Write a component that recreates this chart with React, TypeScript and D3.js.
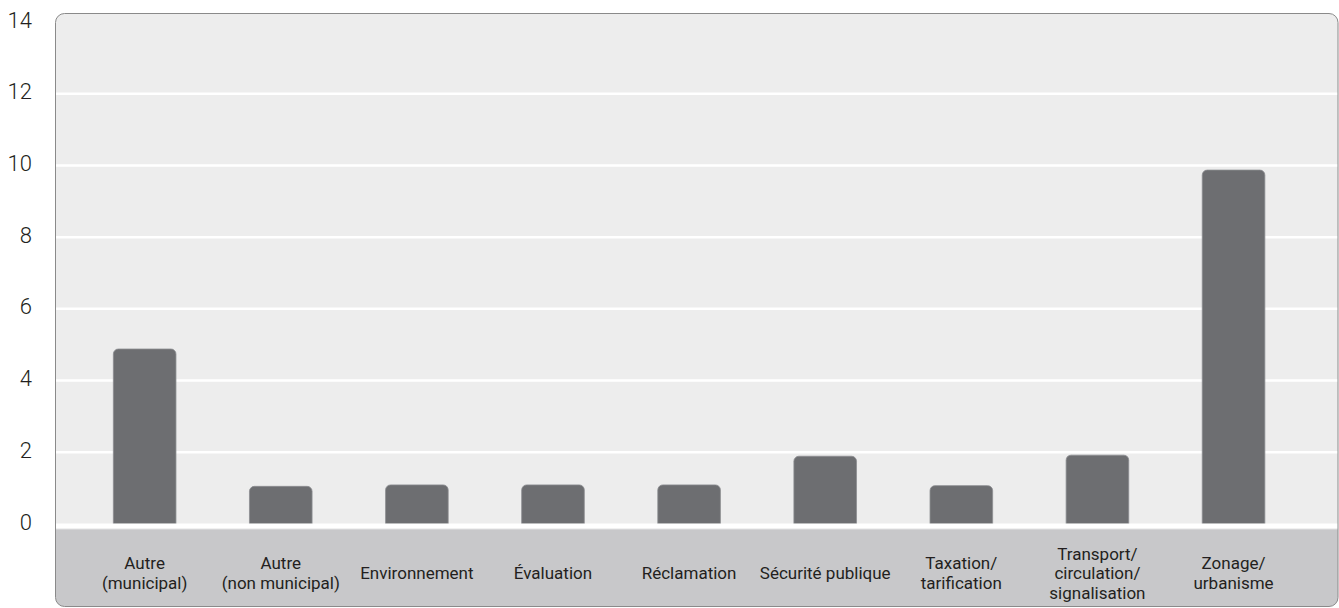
import React from "react";
import * as d3 from "d3";

// Number of requests per subject
const categories: string[][] = [
  ["Autre", "(municipal)"],
  ["Autre", "(non municipal)"],
  ["Environnement"],
  ["Évaluation"],
  ["Réclamation"],
  ["Sécurité publique"],
  ["Taxation/", "tarification"],
  ["Transport/", "circulation/", "signalisation"],
  ["Zonage/", "urbanisme"],
];
const values: number[] = [4.88, 1.05, 1.09, 1.09, 1.09, 1.89, 1.07, 1.92, 9.87];
const yTicks: number[] = [0, 2, 4, 6, 8, 10, 12, 14];

const W = 1339;
const H = 608;
const frame = { x: 55.5, y: 13.5, right: 1338, bottom: 606.5, r: 9 };
const bandTop = 529;

export default function App() {
  const keys = categories.map((c) => c.join(" "));
  const x = d3
    .scaleBand<string>()
    .domain(keys)
    .range([76.6, 1301.6])
    .paddingInner(0.54)
    .paddingOuter(0.27);
  const y = d3.scaleLinear().domain([0, 14]).range([524, 22]);

  const barPath = (x0: number, w: number, top: number, bottom: number) => {
    const r = Math.min(5, (bottom - top) / 2);
    const p = d3.path();
    p.moveTo(x0, bottom);
    p.lineTo(x0, top + r);
    p.arcTo(x0, top, x0 + r, top, r);
    p.lineTo(x0 + w - r, top);
    p.arcTo(x0 + w, top, x0 + w, top + r, r);
    p.lineTo(x0 + w, bottom);
    p.closePath();
    return p.toString();
  };

  const fw = frame.right - frame.x;
  const fh = frame.bottom - frame.y;

  return (
    <svg
      width={W}
      height={H}
      style={{ position: "absolute", left: 0, top: 0 }}
      fontFamily="Roboto, 'Open Sans', sans-serif"
    >
      <defs>
        <clipPath id="frameClip">
          <rect x={frame.x} y={frame.y} width={fw} height={fh} rx={frame.r} />
        </clipPath>
      </defs>
      <g clipPath="url(#frameClip)">
        <rect x={frame.x} y={frame.y} width={fw} height={fh} fill="#ededed" />
        {yTicks
          .filter((t) => t > 0 && t < 14)
          .map((t) => (
            <line
              key={t}
              x1={frame.x}
              x2={frame.right}
              y1={y(t)}
              y2={y(t)}
              stroke="#ffffff"
              strokeWidth={2.5}
            />
          ))}
        {values.map((v, i) => {
          const k = keys[i];
          return (
            <path
              key={k}
              d={barPath(x(k)!, x.bandwidth(), y(v), y(0))}
              fill="#6d6e71"
              stroke="#8c8d90"
              strokeWidth={0.8}
            />
          );
        })}
        <rect x={frame.x} y={y(0) - 0.5} width={fw} height={bandTop - y(0) + 0.5} fill="#ffffff" />
        <rect x={frame.x} y={bandTop} width={fw} height={frame.bottom - bandTop} fill="#c8c8ca" />
        <line x1={frame.x} x2={frame.right} y1={bandTop} y2={bandTop} stroke="#e2e2e3" strokeWidth={1} />
      </g>
      <rect
        x={frame.x}
        y={frame.y}
        width={fw}
        height={fh}
        rx={frame.r}
        fill="none"
        stroke="#8a8a8a"
        strokeWidth={1}
      />
      {yTicks.map((t) => (
        <text
          key={t}
          x={32}
          y={y(t) - 2}
          textAnchor="end"
          dominantBaseline="central"
          fontSize={22}
          fontWeight={300}
          fill="#231f20"
        >
          {t}
        </text>
      ))}
      {categories.map((lines, i) => {
        const cx = x(keys[i])! + x.bandwidth() / 2;
        const lh = 19.5;
        const mid = 573;
        const start = mid - ((lines.length - 1) * lh) / 2;
        return (
          <text
            key={keys[i]}
            x={cx}
            textAnchor="middle"
            fontSize={17}
            fill="#231f20"
          >
            {lines.map((ln, j) => (
              <tspan key={j} x={cx} y={start + j * lh} dominantBaseline="central">
                {ln}
              </tspan>
            ))}
          </text>
        );
      })}
    </svg>
  );
}
